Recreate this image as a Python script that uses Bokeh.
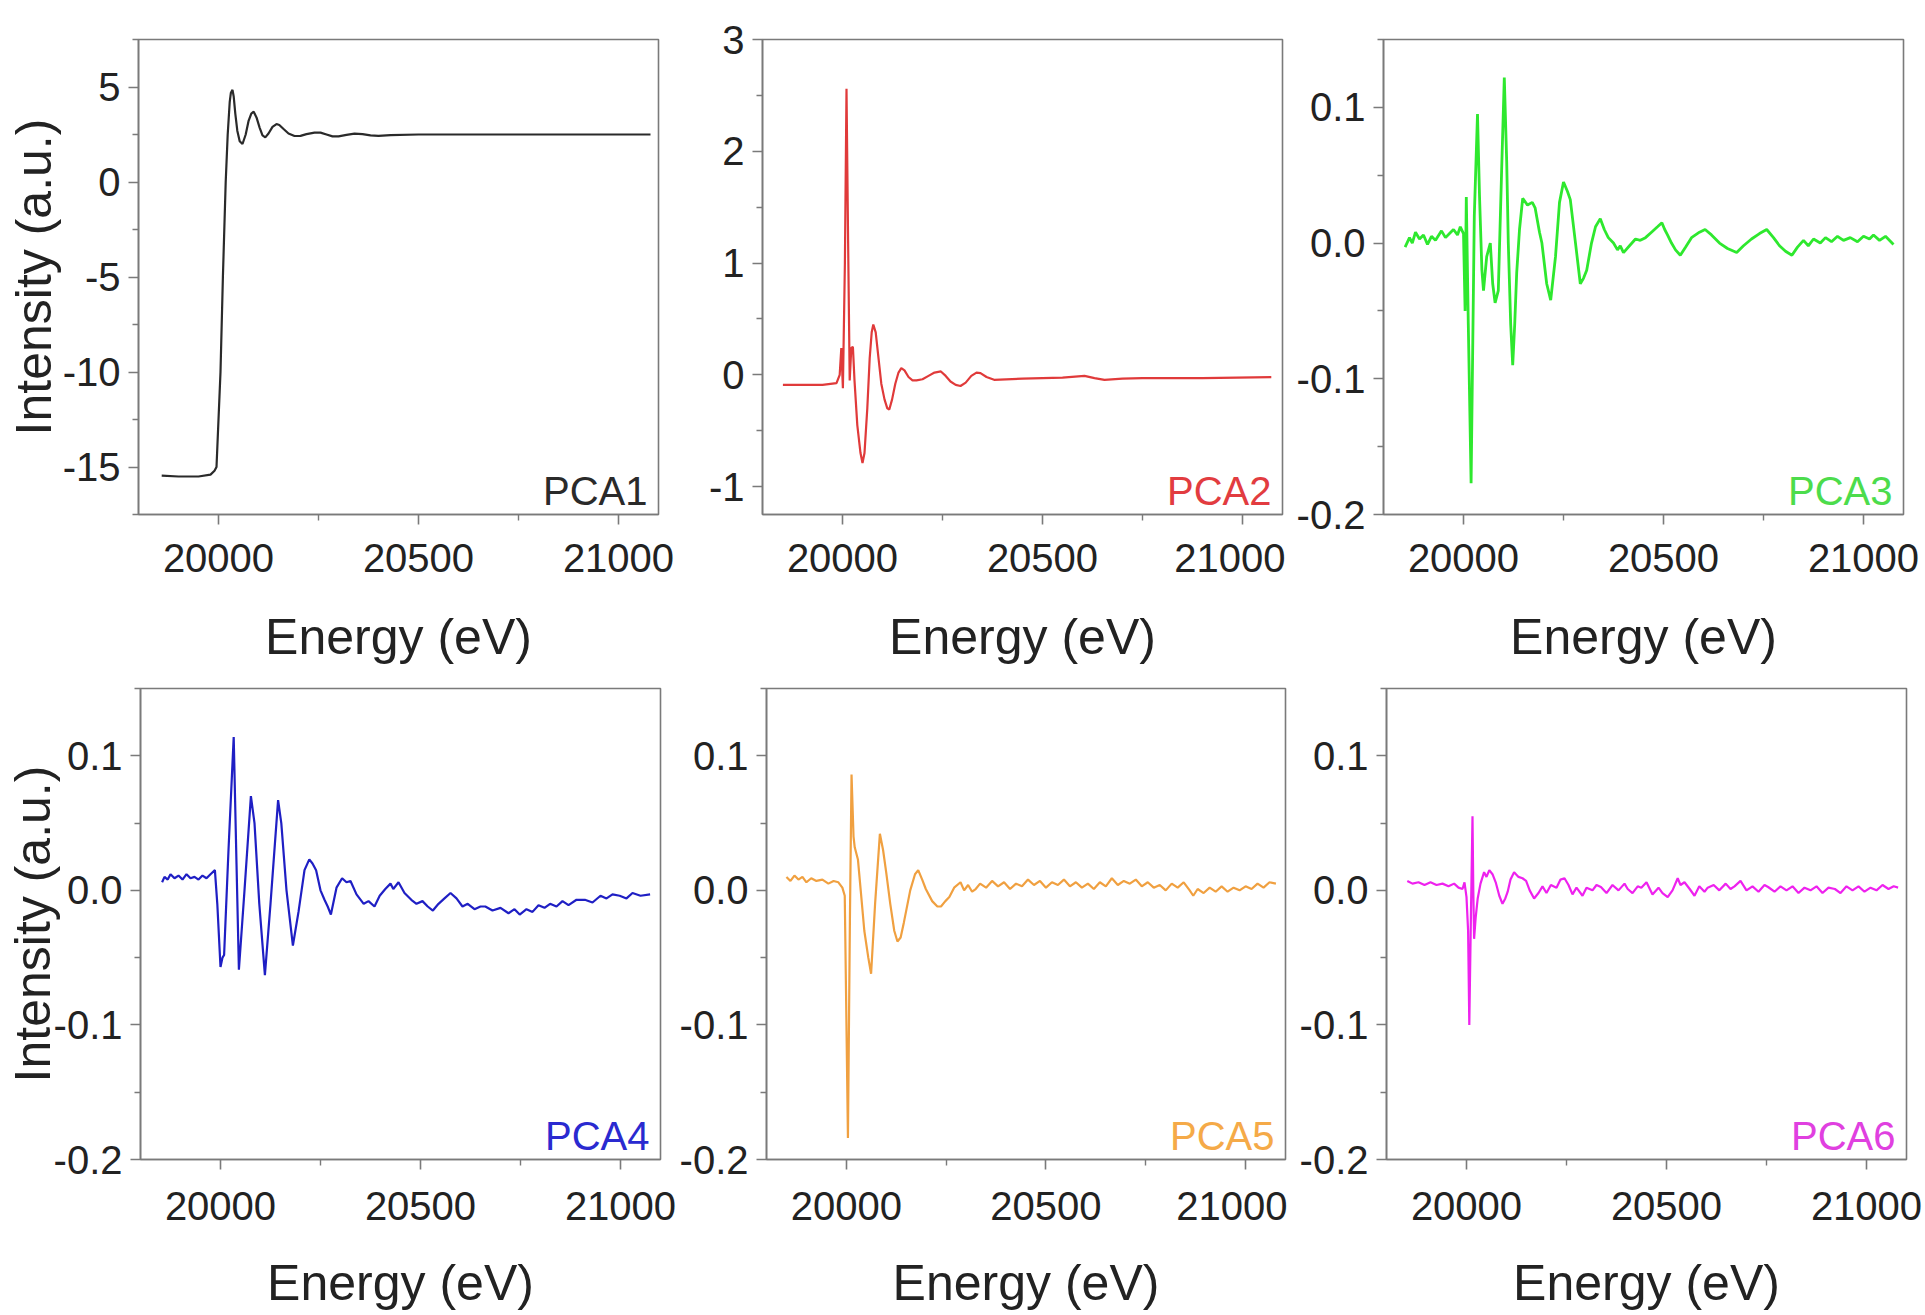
from bokeh.plotting import figure
from bokeh.layouts import row, column
from bokeh.models import FixedTicker, Range1d, PrintfTickFormatter
from bokeh.embed import file_html
from bokeh.resources import INLINE
from bokeh.core.properties import value

FONT = "Liberation Sans"
AX = "#7a7a7a"
TXT = "#222222"

# ---------------- data ----------------
pca1_energy = [19858, 19900, 19950, 19980, 19990, 19995, 20000, 20005, 20011, 20018, 20023, 20028, 20031,
               20035, 20038, 20042, 20047, 20053, 20060, 20068, 20075, 20082, 20088, 20095, 20103, 20110,
               20117, 20125, 20135, 20145, 20152, 20162, 20175, 20190, 20205, 20220, 20240, 20255, 20270,
               20285, 20300, 20320, 20340, 20360, 20380, 20400, 20430, 20500, 20600, 20800, 21000, 21080]
pca1_intensity = [-15.45, -15.5, -15.5, -15.4, -15.2, -15.0, -12.5, -10.0, -5.0, 0.0, 2.5, 4.2, 4.7,
                  4.85, 4.5, 3.6, 2.7, 2.15, 2.0, 2.5, 3.2, 3.6, 3.7, 3.4, 2.85, 2.45,
                  2.35, 2.55, 2.9, 3.05, 3.0, 2.8, 2.55, 2.42, 2.43, 2.52, 2.6, 2.6, 2.5,
                  2.4, 2.4, 2.48, 2.55, 2.52, 2.45, 2.43, 2.47, 2.5, 2.5, 2.5, 2.5, 2.5]

pca2_energy = [19851, 19900, 19950, 19985, 19993, 19997, 20001, 20006, 20010, 20014, 20018, 20022, 20026,
               20030, 20037, 20045, 20050, 20055, 20062, 20068, 20073, 20077, 20083, 20090, 20097, 20105,
               20112, 20117, 20124, 20132, 20140, 20147, 20155, 20165, 20175, 20185, 20200, 20215, 20230,
               20246, 20258, 20270, 20283, 20295, 20308, 20322, 20335, 20345, 20360, 20379, 20450, 20550,
               20605, 20630, 20655, 20700, 20750, 20900, 21072]
pca2_intensity = [-0.09, -0.09, -0.09, -0.075, 0.0, 0.24, -0.12, 1.0, 2.56, 1.2, -0.05, 0.24, 0.25,
                  -0.05, -0.45, -0.7, -0.79, -0.7, -0.3, 0.15, 0.38, 0.45, 0.38, 0.15, -0.08, -0.22,
                  -0.3, -0.31, -0.22, -0.08, 0.02, 0.06, 0.04, -0.02, -0.05, -0.05, -0.04, -0.01, 0.02,
                  0.03, -0.01, -0.06, -0.09, -0.10, -0.07, -0.01, 0.02, 0.015, -0.02, -0.045, -0.035, -0.025,
                  -0.01, -0.03, -0.045, -0.035, -0.03, -0.03, -0.02]

pca3_energy = [19854, 19865, 19872, 19880, 19890, 19900, 19910, 19920, 19930, 19945, 19955, 19965, 19975,
               19985, 19992, 20000, 20004, 20007, 20012, 20019, 20027, 20035, 20040, 20046, 20050, 20058,
               20067, 20073, 20079, 20087, 20095, 20102, 20108, 20112, 20118, 20123, 20128, 20133, 20140,
               20148, 20160, 20172, 20179, 20190, 20196, 20208, 20218, 20230, 20240, 20250, 20260, 20267,
               20280, 20292, 20300, 20308, 20320, 20330, 20342, 20352, 20362, 20375, 20385, 20392, 20400,
               20415, 20430, 20442, 20455, 20470, 20485, 20496, 20503, 20510, 20520, 20530, 20542, 20555,
               20570, 20590, 20604, 20620, 20640, 20660, 20683, 20700, 20720, 20740, 20758, 20775, 20790,
               20805, 20821, 20835, 20850, 20862, 20875, 20892, 20905, 20920, 20935, 20950, 20967, 20985,
               21000, 21015, 21025, 21040, 21055, 21075]
pca3_intensity = [-0.003, 0.004, 0.0, 0.008, 0.003, 0.006, -0.001, 0.005, 0.002, 0.009, 0.004, 0.007, 0.01,
                  0.006, 0.012, 0.007, -0.05, 0.034, -0.06, -0.177, 0.02, 0.095, 0.035, -0.02, -0.035, -0.01,
                  0.0, -0.03, -0.044, -0.035, 0.05, 0.122, 0.06, 0.0, -0.06, -0.09, -0.06, -0.022, 0.01,
                  0.033, 0.028, 0.03, 0.026, 0.008, 0.0, -0.03, -0.042, -0.01, 0.03, 0.045, 0.038, 0.032,
                  0.0, -0.03, -0.026, -0.02, 0.0, 0.012, 0.018, 0.01, 0.004, 0.0, -0.005, -0.002, -0.007,
                  -0.002, 0.003, 0.002, 0.004, 0.008, 0.012, 0.015, 0.01, 0.006, 0.0, -0.005, -0.009, -0.003,
                  0.004, 0.008, 0.01, 0.006, 0.0, -0.004, -0.007, -0.002, 0.003, 0.007, 0.01, 0.004, -0.002,
                  -0.006, -0.009, -0.003, 0.002, -0.002, 0.003, 0.0, 0.004, 0.001, 0.005, 0.002, 0.004, 0.001,
                  0.005, 0.003, 0.006, 0.002, 0.005, -0.001]

pca4_energy = [19854, 19860, 19868, 19875, 19885, 19895, 19905, 19915, 19925, 19935, 19945, 19955, 19965,
               19975, 19986, 19992, 20000, 20005, 20009, 20020, 20033, 20040, 20046, 20060, 20076, 20085,
               20097, 20111, 20125, 20144, 20152, 20165, 20181, 20195, 20210, 20222, 20230, 20239, 20250,
               20260, 20268, 20276, 20290, 20304, 20315, 20325, 20340, 20358, 20370, 20385, 20398, 20412,
               20425, 20432, 20445, 20460, 20477, 20490, 20505, 20518, 20531, 20545, 20560, 20575, 20590,
               20605, 20618, 20635, 20650, 20662, 20680, 20700, 20720, 20735, 20748, 20765, 20780, 20795,
               20810, 20824, 20840, 20855, 20870, 20890, 20911, 20930, 20950, 20965, 20980, 20998, 21015,
               21030, 21050, 21074]
pca4_intensity = [0.006, 0.01, 0.008, 0.012, 0.009, 0.011, 0.008, 0.012, 0.009, 0.01, 0.008, 0.011, 0.009,
                  0.012, 0.015, -0.01, -0.057, -0.05, -0.048, 0.03, 0.114, 0.02, -0.059, 0.0, 0.07, 0.05,
                  -0.01, -0.063, -0.01, 0.067, 0.05, 0.0, -0.041, -0.016, 0.015, 0.023, 0.02, 0.015, 0.0,
                  -0.007, -0.012, -0.018, 0.002, 0.009, 0.006, 0.007, -0.003, -0.01, -0.008, -0.012, -0.004, 0.001,
                  0.005, 0.001, 0.006, -0.002, -0.007, -0.01, -0.008, -0.012, -0.015, -0.01, -0.006, -0.002, -0.006,
                  -0.012, -0.01, -0.014, -0.012, -0.012, -0.015, -0.013, -0.017, -0.014, -0.018, -0.014, -0.016, -0.011,
                  -0.013, -0.01, -0.012, -0.008, -0.011, -0.007, -0.007, -0.009, -0.004, -0.006, -0.003, -0.004, -0.006,
                  -0.002, -0.004, -0.003]

pca5_energy = [19850, 19860, 19870, 19880, 19890, 19900, 19912, 19925, 19940, 19955, 19968, 19980, 19990,
               19996, 20004, 20009, 20013, 20018, 20021, 20029, 20036, 20045, 20055, 20062, 20072, 20084,
               20092, 20100, 20110, 20120, 20128, 20136, 20144, 20160, 20172, 20180, 20190, 20199, 20215,
               20228, 20237, 20248, 20258, 20270, 20286, 20295, 20305, 20315, 20324, 20335, 20350, 20365,
               20380, 20395, 20410, 20425, 20440, 20455, 20470, 20485, 20500, 20515, 20530, 20545, 20560,
               20575, 20590, 20605, 20620, 20635, 20650, 20665, 20680, 20695, 20710, 20725, 20740, 20755,
               20770, 20785, 20800, 20815, 20830, 20845, 20860, 20869, 20880, 20895, 20910, 20925, 20940,
               20955, 20970, 20985, 21000, 21015, 21030, 21045, 21060, 21076]
pca5_intensity = [0.010, 0.007, 0.011, 0.008, 0.010, 0.006, 0.009, 0.007, 0.008, 0.005, 0.007, 0.006, 0.002,
                  -0.004, -0.184, -0.02, 0.086, 0.04, 0.032, 0.023, 0.0, -0.03, -0.05, -0.062, -0.01, 0.042,
                  0.03, 0.013, -0.01, -0.03, -0.038, -0.035, -0.024, 0.0, 0.012, 0.015, 0.008, 0.001, -0.008,
                  -0.012, -0.012, -0.008, -0.005, 0.002, 0.006, 0.0, 0.004, -0.001, 0.001, 0.005, 0.002, 0.007,
                  0.003, 0.006, 0.001, 0.005, 0.003, 0.008, 0.004, 0.007, 0.002, 0.006, 0.004, 0.008, 0.003,
                  0.006, 0.002, 0.005, 0.001, 0.006, 0.003, 0.009, 0.004, 0.007, 0.005, 0.008, 0.003, 0.006,
                  0.002, 0.004, 0.0, 0.005, 0.002, 0.006, 0.0, -0.004, 0.001, -0.002, 0.002, -0.001, 0.003,
                  -0.001, 0.002, 0.0, 0.003, 0.001, 0.005, 0.002, 0.006, 0.005]

pca6_energy = [19852, 19865, 19880, 19895, 19910, 19925, 19940, 19955, 19969, 19980, 19990, 19995, 20000,
               20004, 20007, 20011, 20015, 20017, 20019, 20023, 20028, 20035, 20044, 20050, 20057, 20065,
               20073, 20082, 20090, 20097, 20103, 20110, 20119, 20130, 20140, 20149, 20158, 20169, 20180,
               20190, 20200, 20211, 20225, 20235, 20245, 20255, 20265, 20275, 20290, 20300, 20315, 20325,
               20336, 20350, 20365, 20380, 20395, 20403, 20415, 20428, 20437, 20450, 20465, 20480, 20490,
               20503, 20515, 20528, 20535, 20545, 20558, 20570, 20582, 20595, 20603, 20618, 20632, 20648,
               20660, 20670, 20685, 20700, 20715, 20730, 20745, 20754, 20770, 20785, 20800, 20815, 20830,
               20845, 20860, 20875, 20890, 20905, 20921, 20935, 20950, 20965, 20980, 20995, 21010, 21025,
               21040, 21055, 21068, 21079]
pca6_intensity = [0.007, 0.005, 0.006, 0.004, 0.006, 0.004, 0.005, 0.003, 0.005, 0.002, 0.001, 0.006, -0.005,
                  -0.03, -0.10, -0.02, 0.055, 0.0, -0.036, -0.02, -0.006, 0.005, 0.0135, 0.01, 0.015, 0.012,
                  0.006, -0.004, -0.01, -0.006, -0.001, 0.008, 0.0135, 0.01, 0.009, 0.007, 0.0, -0.006, -0.002,
                  0.003, -0.002, 0.004, 0.002, 0.008, 0.009, 0.004, -0.003, 0.002, -0.004, 0.002, 0.0, 0.004,
                  0.0025, -0.002, 0.004, 0.0, 0.005, 0.001, -0.002, 0.003, 0.002, 0.006, -0.003, 0.002, -0.002,
                  -0.005, 0.0, 0.009, 0.004, 0.006, 0.001, -0.004, 0.003, -0.001, 0.002, 0.004, 0.0, 0.005,
                  0.001, 0.003, 0.007, 0.0, 0.003, -0.001, 0.004, 0.0025, -0.001, 0.003, 0.0, 0.003, -0.002,
                  0.002, 0.0, 0.003, -0.002, 0.002, 0.001, -0.002, 0.003, 0.0, 0.003, -0.001, 0.002, 0.0,
                  0.004, 0.001, 0.003, 0.002]

x_ticks = [20000, 20500, 21000]
x_minor_ticks = [19750, 20250, 20750]
pca1_y_ticks = [-15, -10, -5, 0, 5]
pca1_y_minor = [-17.5, -12.5, -7.5, -2.5, 2.5, 7.5]
pca2_y_ticks = [-1, 0, 1, 2, 3]
pca2_y_minor = [-0.5, 0.5, 1.5, 2.5]
small_y_ticks = [-0.2, -0.1, 0.0, 0.1]
small_y_minor = [-0.15, -0.05, 0.05, 0.15]

panel_names = ["PCA1", "PCA2", "PCA3", "PCA4", "PCA5", "PCA6"]
line_colors = ["#2a2a2a", "#e03a3a", "#2ee82e", "#1f1fc4", "#f0a040", "#ee22ee"]
label_colors = ["#2a2a2a", "#e23c40", "#4cdc4c", "#2a2ad0", "#f5aa48", "#e040e0"]

X_RANGE = (19800, 21100)
FRAME_W = 520


def make_panel(width, height, bl, br, bt, bb, y_range, yt, ymt, yfmt, ylabel,
               energy, inten, color, name, label_color, lw, ylab_standoff,
               tick_standoff, xlab_standoff):
    p = figure(width=width, height=height, output_backend="svg", toolbar_location=None,
               x_range=Range1d(*X_RANGE), y_range=Range1d(*y_range))
    p.min_border_left = bl
    p.min_border_right = br
    p.min_border_top = bt
    p.min_border_bottom = bb
    p.background_fill_color = "white"
    p.border_fill_color = "white"
    p.outline_line_color = AX
    p.outline_line_width = 1.6
    p.grid.visible = False

    p.line(energy, inten, line_color=color, line_width=lw)

    frame_h = height - bt - bb
    # label anchored a few px in from the lower right corner of the frame
    lx = X_RANGE[1] - 11 * (X_RANGE[1] - X_RANGE[0]) / FRAME_W
    ly = y_range[0] + 24 * (y_range[1] - y_range[0]) / frame_h
    p.text(x=[lx], y=[ly], text=[name], text_font=value(FONT), text_font_size="40px",
           text_align="right", text_baseline="alphabetic", text_color=label_color)

    xa = p.xaxis[0]
    xa.ticker = FixedTicker(ticks=x_ticks, minor_ticks=x_minor_ticks)
    xa.axis_label = "Energy (eV)"
    ya = p.yaxis[0]
    ya.ticker = FixedTicker(ticks=yt, minor_ticks=ymt)
    ya.formatter = PrintfTickFormatter(format=yfmt)
    if ylabel:
        ya.axis_label = "Intensity (a.u.)"
    ya.axis_label_standoff = ylab_standoff
    xa.axis_label_standoff = xlab_standoff
    xa.major_label_standoff = tick_standoff
    ya.major_label_standoff = 8

    for ax in (xa, ya):
        ax.axis_line_color = AX
        ax.axis_line_width = 1.6
        ax.major_tick_line_color = AX
        ax.minor_tick_line_color = AX
        ax.major_tick_line_width = 1.6
        ax.minor_tick_line_width = 1.4
        ax.major_tick_in = 0
        ax.major_tick_out = 10
        ax.minor_tick_in = 0
        ax.minor_tick_out = 6
        ax.major_label_text_font = FONT
        ax.major_label_text_font_size = "40px"
        ax.major_label_text_color = TXT
        ax.axis_label_text_font = FONT
        ax.axis_label_text_font_size = "50px"
        ax.axis_label_text_font_style = "normal"
        ax.axis_label_text_color = TXT
    return p


H1 = 672
H2 = 1315 - H1

W1, W2 = 690, 595
f1 = make_panel(W1, H1, 138, W1 - 138 - FRAME_W, 39, H1 - 39 - 475, (-17.5, 7.5),
                pca1_y_ticks, pca1_y_minor, "%d", True, pca1_energy, pca1_intensity,
                line_colors[0], panel_names[0], label_colors[0], 2.2, -2, 19, 34)
f2 = make_panel(W2, H1, 72, W2 - 72 - FRAME_W, 39, H1 - 39 - 475, (-1.25, 3.0),
                pca2_y_ticks, pca2_y_minor, "%d", False, pca2_energy, pca2_intensity,
                line_colors[1], panel_names[1], label_colors[1], 2.2, 5, 19, 34)
W3 = 1925 - W1 - W2
f3 = make_panel(W3, H1, 98, W3 - 98 - FRAME_W, 39, H1 - 39 - 475, (-0.2, 0.15),
                small_y_ticks, small_y_minor, "%.1f", False, pca3_energy, pca3_intensity,
                line_colors[2], panel_names[2], label_colors[2], 2.8, 5, 19, 34)

W4, W5 = 676, 611
f4 = make_panel(W4, H2, 140, W4 - 140 - FRAME_W, 16, H2 - 16 - 474, (-0.2, 0.15),
                small_y_ticks, small_y_minor, "%.1f", True, pca4_energy, pca4_intensity,
                line_colors[3], panel_names[3], label_colors[3], 2.2, -10, 22, 32)
f5 = make_panel(W5, H2, 89, W5 - 89 - FRAME_W, 13, H2 - 13 - 474, (-0.2, 0.15),
                small_y_ticks, small_y_minor, "%.1f", False, pca5_energy, pca5_intensity,
                line_colors[4], panel_names[4], label_colors[4], 2.2, 5, 22, 32)
W6 = 1925 - W4 - W5
f6 = make_panel(W6, H2, 99, W6 - 99 - FRAME_W, 16, H2 - 16 - 474, (-0.2, 0.15),
                small_y_ticks, small_y_minor, "%.1f", False, pca6_energy, pca6_intensity,
                line_colors[5], panel_names[5], label_colors[5], 2.2, 5, 22, 32)

layout = column(row(f1, f2, f3, spacing=0), row(f4, f5, f6, spacing=0), spacing=0)

open("out.html", "w").write(file_html(layout, INLINE))
